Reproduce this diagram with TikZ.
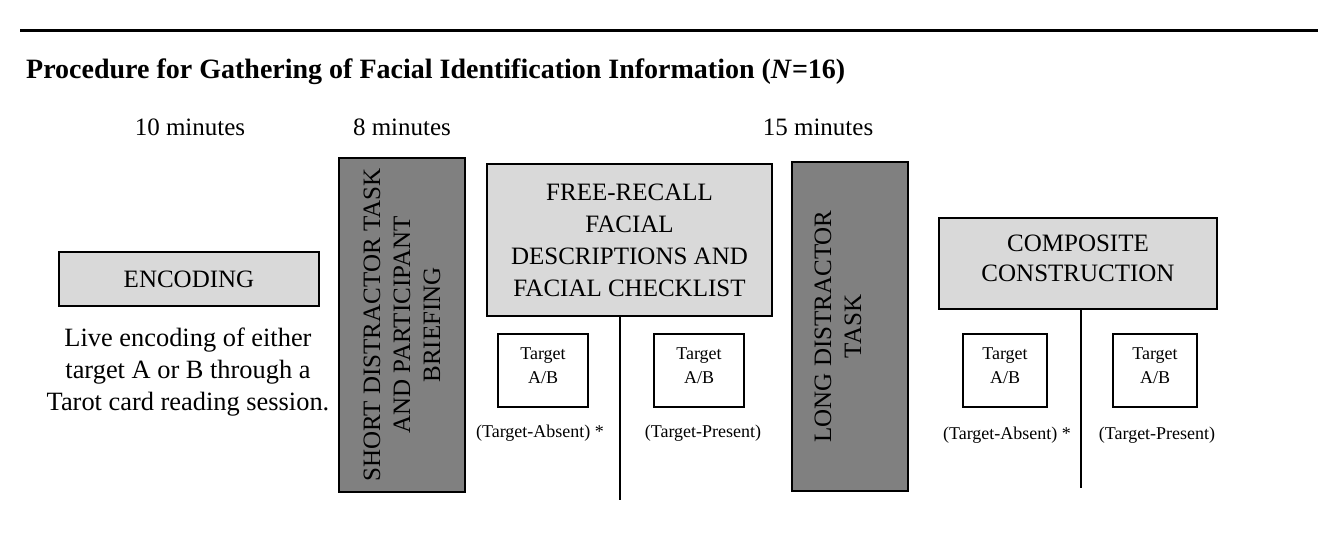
\documentclass[tikz,border=0pt]{standalone}
\usepackage{fontspec}
\setmainfont{Liberation Serif}
\definecolor{stagegray}{gray}{0.85}
\definecolor{pausegray}{gray}{0.5}
\tikzset{
  stage/.style={draw,line width=2pt,fill=stagegray,inner sep=0pt,align=center},
  pause/.style={draw,line width=2pt,fill=pausegray,inner sep=0pt},
  lineup/.style={draw,line width=2pt,fill=white,inner sep=0pt,align=center,
    text height=36.5pt,text depth=11.5pt,font=\fontsize{18}{24}\selectfont},
  cond/.style={font=\fontsize{18}{22}\selectfont},
  split/.style={line width=2pt},
}
\begin{document}
\begin{tikzpicture}[x=1pt,y=1pt,font=\fontsize{25}{31.5}\selectfont]
  \useasboundingbox (0,0) rectangle (1340,-539);
  % heading
  \draw[line width=3pt] (20,-30) -- (1318,-30);
  \node[anchor=base west,inner sep=0pt,font=\fontsize{28}{32}\selectfont\bfseries] (title) at (26,-78)
    {Procedure for Gathering of Facial Identification Information (\textit{N}=16)};
  % durations
  \node[anchor=base,inner sep=0pt] (t10) at (190,-135) {10 minutes};
  \node[anchor=base,inner sep=0pt] (t8)  at (402,-135) {8 minutes};
  \node[anchor=base,inner sep=0pt] (t15) at (818,-135) {15 minutes};
  % encoding
  \node[stage,minimum width=260,minimum height=54] (enc) at (189,-279) {ENCODING};
  \node[align=center,inner sep=0pt,font=\fontsize{26.4}{32}\selectfont] (live) at (188,-372)
    {Live encoding of either\\target A or B through a\\Tarot card reading session.};
  % short distractor
  \node[pause,minimum width=126,minimum height=334] (short) at (402,-325) {};
  \node[rotate=90,align=center,inner sep=0pt,font=\fontsize{25}{30}\selectfont] (shorttxt) at (short.center)
    {SHORT DISTRACTOR TASK\\AND PARTICIPANT\\BRIEFING};
  % free recall
  \node[stage,minimum width=285,minimum height=152,font=\fontsize{25}{32}\selectfont] (recall) at (629.5,-240)
    {FREE-RECALL\\FACIAL\\DESCRIPTIONS AND\\FACIAL CHECKLIST};
  \coordinate (rsplit) at (620,-500);
  \draw[split] (rsplit |- recall.south) -- (rsplit);
  \node[lineup,minimum width=90,minimum height=73] (ra) at (543,-370.5) {Target\\A/B};
  \node[lineup,minimum width=90,minimum height=73] (rp) at (699,-370.5) {Target\\A/B};
  \node[cond] (rab) at (540,-433) {(Target-Absent) *};
  \node[cond] (rpr) at (703,-433) {(Target-Present)};
  % long distractor
  \node[pause,minimum width=116,minimum height=329] (long) at (850,-326.5) {};
  \node[rotate=90,align=center,inner sep=0pt,font=\fontsize{25}{30}\selectfont] (longtxt) at ([xshift=-12]long.center)
    {LONG DISTRACTOR\\TASK};
  % composite
  \node[stage,minimum width=278,minimum height=91,text height=47.5pt,text depth=11.5pt,
    font=\fontsize{25}{30}\selectfont] (comp) at (1078,-263.5)
    {COMPOSITE\\CONSTRUCTION};
  \coordinate (csplit) at (1081,-488);
  \draw[split] (csplit |- comp.south) -- (csplit);
  \node[lineup,minimum width=84,minimum height=73] (ca) at (1005,-370.5) {Target\\A/B};
  \node[lineup,minimum width=84,minimum height=73] (cp) at (1155,-370.5) {Target\\A/B};
  \node[cond] (cab) at (1007,-435) {(Target-Absent) *};
  \node[cond] (cpr) at (1157,-435) {(Target-Present)};
\end{tikzpicture}
\end{document}
